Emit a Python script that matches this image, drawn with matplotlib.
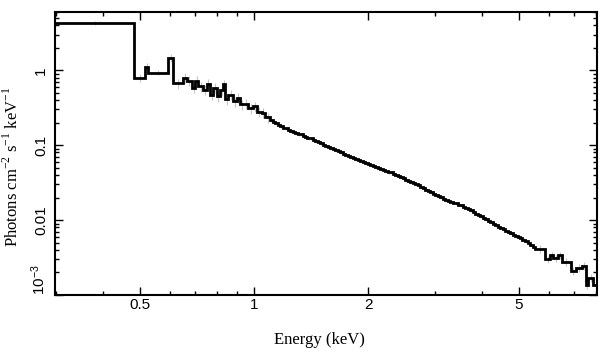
import numpy as np
import matplotlib
matplotlib.use("Agg")
import matplotlib.pyplot as plt
from matplotlib.ticker import FixedLocator, FixedFormatter, NullFormatter

plt.rcParams['mathtext.fontset'] = 'custom'
plt.rcParams['mathtext.rm'] = 'Liberation Serif'
plt.rcParams['mathtext.sf'] = 'Liberation Sans'
plt.rcParams['path.simplify'] = False

# bin edges (keV) and unfolded flux (photons cm^-2 s^-1 keV^-1)
# soft part: wide bins, then the noisy 0.6-1.1 keV stretch
edges_soft = [
    0.30, 0.482, 0.515, 0.526, 0.594, 0.610,
    0.651, 0.664, 0.685, 0.699, 0.713, 0.735, 0.750, 0.765, 0.781, 0.797,
    0.813, 0.830, 0.838, 0.855, 0.882, 0.900, 0.918, 0.937, 0.966, 0.996,
    1.016, 1.048, 1.069,
]
flux_soft = [
    4.3, 0.787, 1.12, 0.928, 1.48,
    0.67, 0.79, 0.73, 0.58, 0.72, 0.61, 0.55, 0.66, 0.47, 0.58,
    0.45, 0.54, 0.65, 0.41, 0.47, 0.385, 0.43, 0.35, 0.36, 0.31,
    0.33, 0.28, 0.27, 0.235,
]
# middle part: narrow bins, 1.1-5.5 keV
edges_mid = [
    1.102, 1.119, 1.136, 1.154, 1.171, 1.189, 1.207, 1.226, 1.245, 1.264,
    1.283, 1.303, 1.323, 1.343, 1.363, 1.384, 1.406, 1.427, 1.449, 1.471,
    1.494, 1.517, 1.540, 1.564, 1.587, 1.612, 1.636, 1.662, 1.687, 1.713,
    1.739, 1.766, 1.793, 1.820, 1.848, 1.877, 1.905, 1.935, 1.964, 1.995,
    2.025, 2.056, 2.087, 2.120, 2.151, 2.185, 2.218, 2.253, 2.286, 2.322,
    2.357, 2.394, 2.430, 2.468, 2.505, 2.544, 2.582, 2.623, 2.662, 2.704,
    2.744, 2.787, 2.829, 2.873, 2.916, 2.962, 3.006, 3.054, 3.099, 3.148,
    3.195, 3.245, 3.293, 3.345, 3.395, 3.449, 3.500, 3.555, 3.608, 3.665,
    3.719, 3.778, 3.834, 3.895, 3.953, 4.015, 4.074, 4.139, 4.200, 4.267,
    4.330, 4.398, 4.463, 4.534, 4.601, 4.674, 4.743, 4.818, 4.890, 4.967,
    5.041, 5.117, 5.196, 5.277, 5.357, 5.440,
]
flux_mid = [
    0.215, 0.205, 0.196, 0.186, 0.180, 0.172, 0.168, 0.158, 0.155, 0.150,
    0.146, 0.140, 0.139, 0.132, 0.129, 0.124, 0.123, 0.118, 0.114, 0.109,
    0.107, 0.102, 0.099, 0.094, 0.092, 0.089, 0.086, 0.083, 0.081, 0.077,
    0.075, 0.072, 0.0700, 0.0668, 0.0655, 0.0632, 0.0620, 0.0595, 0.0580, 0.0560,
    0.0538, 0.0520, 0.0505, 0.0492, 0.0480, 0.0462, 0.0452, 0.0440, 0.0434, 0.0418,
    0.0402, 0.0388, 0.0376, 0.0360, 0.0344, 0.0333, 0.0326, 0.0314, 0.0303, 0.0290,
    0.0280, 0.0268, 0.0256, 0.0246, 0.0237, 0.0226, 0.0214, 0.0207, 0.0202, 0.0194,
    0.0186, 0.0180, 0.0177, 0.0171, 0.0167, 0.0160, 0.0157, 0.0150, 0.0146, 0.0140,
    0.0136, 0.0128, 0.0122, 0.0117, 0.0112, 0.0106, 0.0102, 0.0098, 0.0095, 0.0090,
    0.0085, 0.0081, 0.0079, 0.0075, 0.0072, 0.0069, 0.0067, 0.0064, 0.0061, 0.0059,
    0.0058, 0.0055, 0.0052, 0.0049, 0.0047, 0.0044,
]
# hard tail, 5.5-8 keV
edges_hard = [5.522, 5.87, 6.05, 6.17, 6.36, 6.49, 6.86, 7.09, 7.33, 7.53, 7.63, 7.87, 8.10]
flux_hard = [0.0041, 0.0030, 0.0034, 0.0031, 0.0034, 0.0028, 0.0021, 0.0023, 0.00245,
             0.00137, 0.00168, 0.00137]

# rough relative error bar size per region (faint grey bars)
err_soft = [0.06, 0.12, 0.12, 0.08, 0.12] + [0.15] * 24
err_mid = [0.05] * len(flux_mid)
err_hard = [0.12] * len(flux_hard)

edges = np.array(edges_soft + edges_mid + edges_hard)
vals = np.array(flux_soft + flux_mid + flux_hard)
centers = np.sqrt(edges[:-1] * edges[1:])
err = vals * np.array(err_soft + err_mid + err_hard)

fig = plt.figure(figsize=(6.09, 3.57), dpi=100)
ax = fig.add_axes([55 / 609, 1 - 295 / 357, 542 / 609, 283 / 357])

ax.errorbar(centers, vals, yerr=err, fmt='none', ecolor='#c4c4c4', elinewidth=0.8)
ax.plot(edges, np.append(vals, vals[-1]), drawstyle='steps-post', color='black',
        linewidth=2.0, solid_joinstyle='miter')

ax.set_xscale('log')
ax.set_yscale('log')
ax.set_xlim(0.298, 8.05)
ax.set_ylim(1e-3, 6.0)

ax.xaxis.set_major_locator(FixedLocator([0.5, 1, 2, 5]))
ax.xaxis.set_major_formatter(FixedFormatter(['0.5', '1', '2', '5']))
ax.xaxis.set_minor_locator(FixedLocator([0.3, 0.4, 0.6, 0.7, 0.8, 0.9, 3, 4, 6, 7, 8]))
ax.xaxis.set_minor_formatter(NullFormatter())

ax.yaxis.set_major_locator(FixedLocator([1e-3, 1e-2, 0.1, 1]))
ax.yaxis.set_major_formatter(FixedFormatter([r'$\mathsf{10^{-3}}$', '0.01', '0.1', '1']))
ax.yaxis.set_minor_locator(FixedLocator(
    [m * 10.0 ** k for k in range(-3, 1) for m in range(2, 10)]))
ax.yaxis.set_minor_formatter(NullFormatter())

ax.tick_params(which='both', direction='in', top=True, right=True, width=1.0)
ax.tick_params(which='major', length=6)
ax.tick_params(which='minor', length=3)
ax.tick_params(axis='x', which='major', pad=2, labelsize=11)
ax.tick_params(axis='y', which='major', pad=5, labelsize=11)
for lab in ax.get_xticklabels() + ax.get_yticklabels():
    lab.set_family('Liberation Sans')
for lab in ax.get_yticklabels():
    lab.set_rotation(90)
    lab.set_va('center')
ax.get_yticklabels()[0].set_va('bottom')

for sp in ax.spines.values():
    sp.set_linewidth(1.5)

ax.set_xlabel('Energy (keV)', family='Liberation Serif', fontsize=12)
ax.set_ylabel(r'Photons cm$^{-2}$ s$^{-1}$ keV$^{-1}$', family='Liberation Serif', fontsize=12)
ax.xaxis.set_label_coords(0.487, -0.13)
ax.yaxis.set_label_coords(-0.062, 0.455)

fig.savefig('out.png', dpi=100)
